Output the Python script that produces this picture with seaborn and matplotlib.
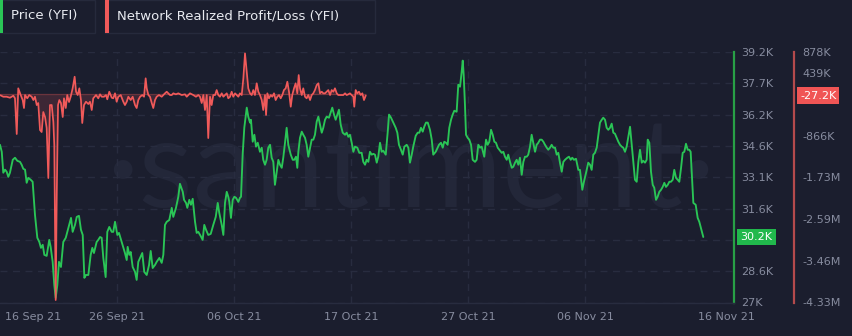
import matplotlib
matplotlib.use("Agg")
import matplotlib.pyplot as plt
import seaborn as sns
from matplotlib.patches import Rectangle
from matplotlib.transforms import Affine2D, blended_transform_factory, ScaledTranslation

# ---------------- data ----------------
# x = days after 16 Sep 2021 (chart scale), price in thousands USD
g_day = [
    0.00, 0.15, 0.28, 0.43, 0.57, 0.71, 0.85, 1.09, 1.28, 1.48,
    1.71, 1.85, 1.99, 2.14, 2.28, 2.42, 2.62, 2.79, 2.99, 3.19,
    3.36, 3.50, 3.65, 3.79, 3.99, 4.21, 4.33, 4.50, 4.64, 4.76,
    4.90, 5.04, 5.21, 5.41, 5.62, 5.84, 6.07, 6.21, 6.41, 6.56,
    6.75, 6.92, 7.07, 7.21, 7.35, 7.55, 7.75, 7.89, 8.03, 8.26,
    8.40, 8.55, 8.69, 8.83, 9.03, 9.17, 9.34, 9.55, 9.68, 9.83,
    10.03, 10.17, 10.40, 10.68, 10.83, 10.91, 11.05, 11.17, 11.34, 11.54,
    11.68, 11.82, 11.97, 12.16, 12.33, 12.54, 12.74, 12.88, 13.05, 13.25,
    13.39, 13.62, 13.82, 13.96, 14.10, 14.25, 14.47, 14.68, 14.81, 15.04,
    15.24, 15.38, 15.62, 15.73, 15.90, 16.01, 16.18, 16.32, 16.47, 16.67,
    16.81, 16.95, 17.15, 17.32, 17.46, 17.61, 17.80, 18.01, 18.23, 18.44,
    18.61, 18.74, 18.95, 19.09, 19.23, 19.38, 19.51, 19.60, 19.74, 19.89,
    20.03, 20.17, 20.37, 20.51, 20.60, 20.74, 20.88, 21.09, 21.22, 21.37,
    21.45, 21.60, 21.74, 21.88, 22.03, 22.22, 22.37, 22.50, 22.65, 22.79,
    22.93, 23.08, 23.22, 23.36, 23.50, 23.65, 23.79, 23.93, 24.08, 24.21,
    24.36, 24.50, 24.64, 24.85, 25.02, 25.15, 25.30, 25.41, 25.50, 25.64,
    25.79, 25.92, 26.07, 26.21, 26.35, 26.50, 26.64, 26.78, 26.92, 27.07,
    27.21, 27.35, 27.50, 27.63, 27.78, 27.92, 28.12, 28.29, 28.40, 28.55,
    28.69, 28.83, 28.97, 29.12, 29.29, 29.49, 29.63, 29.77, 29.91, 30.06,
    30.20, 30.34, 30.54, 30.71, 30.91, 31.05, 31.20, 31.34, 31.48, 31.62,
    31.77, 31.91, 32.05, 32.20, 32.33, 32.48, 32.62, 32.76, 32.97, 33.14,
    33.25, 33.42, 33.62, 33.82, 33.96, 34.10, 34.27, 34.42, 34.56, 34.76,
    34.90, 35.04, 35.19, 35.32, 35.53, 35.70, 35.84, 35.98, 36.13, 36.26,
    36.41, 36.56, 36.75, 36.90, 37.03, 37.24, 37.41, 37.52, 37.69, 37.84,
    37.97, 38.12, 38.26, 38.40, 38.55, 38.69, 38.83, 39.03, 39.17, 39.32,
    39.46, 39.55, 39.63, 39.74, 39.83, 39.97, 40.11, 40.26, 40.40, 40.60,
    40.74, 40.88, 41.03, 41.17, 41.31, 41.39, 41.54, 41.68, 41.82, 41.97,
    42.11, 42.25, 42.39, 42.54, 42.74, 42.88, 43.02, 43.16, 43.31, 43.44,
    43.59, 43.74, 43.87, 44.02, 44.16, 44.30, 44.44, 44.59, 44.73, 44.87,
    45.02, 45.15, 45.30, 45.44, 45.58, 45.73, 45.87, 46.01, 46.15, 46.30,
    46.44, 46.58, 46.73, 46.86, 47.01, 47.15, 47.29, 47.44, 47.58, 47.72,
    47.86, 48.01, 48.15, 48.29, 48.49, 48.63, 48.78, 48.91, 49.06, 49.23,
    49.43, 49.57, 49.77, 49.91, 50.09, 50.28, 50.43, 50.57, 50.71, 50.85,
    51.00, 51.14, 51.28, 51.43, 51.56, 51.71, 51.85, 51.99, 52.14, 52.28,
    52.42, 52.56, 52.71, 52.85, 52.99, 53.14, 53.27, 53.42, 53.56, 53.70,
    53.85, 53.99, 54.13, 54.27, 54.42, 54.56, 54.70, 54.85, 54.98, 55.13,
    55.27, 55.36, 55.50, 55.64, 55.79, 55.92, 56.07, 56.21, 56.35, 56.50,
    56.64, 56.78, 56.92, 57.07, 57.21, 57.35, 57.50, 57.63, 57.78, 57.92,
    58.06, 58.21, 58.35, 58.49, 58.63, 58.78, 58.91, 59.03, 59.12, 59.26,
    59.46, 59.63, 59.77, 59.91, 60.11,
]
g_price = [
    34.68, 34.34, 33.32, 33.47, 33.37, 33.12, 33.32, 33.95, 34.05, 33.90,
    33.85, 33.71, 33.51, 33.47, 32.83, 33.07, 32.98, 32.88, 31.27, 30.15,
    29.95, 29.66, 29.81, 29.32, 29.27, 30.05, 29.71, 28.98, 27.85, 27.22,
    27.85, 28.98, 28.73, 29.95, 30.15, 30.63, 31.12, 30.44, 30.78, 31.17,
    31.22, 30.54, 30.29, 28.20, 28.34, 28.34, 29.32, 29.66, 29.41, 29.95,
    30.05, 30.19, 30.15, 29.17, 28.24, 30.44, 30.68, 30.44, 30.44, 30.93,
    30.29, 30.39, 29.95, 29.41, 29.07, 29.71, 29.32, 29.46, 28.73, 28.49,
    28.10, 28.98, 29.17, 29.41, 28.49, 28.34, 28.83, 29.51, 28.68, 28.83,
    28.98, 29.17, 28.93, 29.32, 30.78, 30.93, 31.02, 31.61, 31.17, 31.61,
    32.15, 32.78, 32.39, 32.00, 31.85, 31.61, 32.00, 31.76, 32.05, 30.93,
    30.39, 30.44, 30.24, 30.05, 30.78, 30.54, 30.29, 30.34, 30.78, 31.17,
    31.85, 31.37, 30.78, 30.29, 31.85, 32.39, 32.15, 31.90, 31.12, 32.00,
    32.15, 32.10, 31.90, 32.10, 32.15, 34.20, 35.51, 36.49, 36.05, 35.76,
    35.90, 34.83, 35.17, 34.59, 34.78, 34.34, 34.54, 33.95, 33.71, 33.95,
    34.54, 34.68, 34.05, 33.85, 32.73, 33.37, 33.95, 33.71, 33.56, 34.05,
    34.78, 35.51, 34.68, 34.20, 33.95, 33.95, 34.10, 33.56, 34.34, 35.02,
    35.32, 35.17, 35.02, 34.68, 34.10, 34.54, 34.93, 34.93, 35.17, 35.81,
    36.05, 35.66, 35.27, 35.51, 35.90, 36.05, 36.00, 36.29, 36.49, 36.15,
    35.90, 36.15, 36.39, 35.66, 35.27, 35.17, 35.27, 35.07, 35.17, 34.78,
    34.34, 34.59, 34.54, 34.29, 34.29, 33.85, 33.71, 33.95, 33.85, 34.34,
    34.20, 34.24, 34.20, 33.81, 34.10, 34.78, 34.34, 34.39, 34.20, 35.32,
    36.15, 36.00, 35.76, 35.51, 35.27, 34.68, 34.44, 34.20, 34.59, 34.68,
    34.54, 33.81, 34.20, 34.59, 35.12, 35.27, 35.27, 35.51, 35.32, 35.56,
    35.76, 35.76, 35.41, 34.93, 34.20, 34.34, 34.54, 34.68, 34.78, 34.54,
    34.83, 34.78, 34.68, 35.51, 35.90, 36.15, 36.34, 36.29, 37.61, 37.51,
    38.24, 38.78, 38.10, 36.63, 35.17, 35.02, 34.93, 34.68, 33.95, 33.85,
    33.95, 34.68, 34.54, 34.59, 34.29, 34.10, 34.93, 34.68, 34.83, 35.41,
    35.17, 34.83, 34.78, 34.54, 34.39, 34.29, 34.34, 34.10, 33.95, 34.20,
    33.85, 33.56, 33.61, 33.81, 33.95, 33.71, 34.05, 33.22, 33.85, 34.10,
    34.10, 34.20, 34.59, 35.17, 34.78, 34.34, 34.68, 34.78, 34.93, 34.93,
    34.83, 34.68, 34.54, 34.44, 34.54, 34.68, 34.54, 34.54, 34.20, 34.29,
    33.81, 33.37, 33.85, 33.95, 34.05, 34.10, 33.95, 34.05, 33.95, 34.00,
    33.46, 33.46, 32.49, 32.88, 33.32, 33.81, 33.71, 33.46, 34.20, 34.29,
    34.54, 35.17, 35.76, 35.90, 36.00, 35.90, 35.51, 35.41, 35.51, 35.71,
    35.27, 35.22, 35.02, 34.83, 34.68, 34.59, 34.54, 34.34, 34.59, 35.07,
    35.56, 34.68, 33.85, 32.98, 32.88, 33.85, 34.44, 33.81, 33.90, 33.81,
    33.95, 34.93, 34.78, 33.37, 32.73, 32.59, 32.00, 32.15, 32.39, 32.49,
    32.63, 32.83, 32.63, 32.73, 32.88, 32.88, 32.98, 33.46, 33.07, 32.98,
    32.88, 33.56, 34.29, 34.34, 34.73, 34.44, 34.44, 34.34, 33.37, 31.85,
    31.76, 31.12, 30.93, 30.63, 30.19,
]

# Network realized profit/loss, thousands
r_day = [
    0.00, 0.28, 0.57, 0.85, 1.14, 1.28, 1.43, 1.56, 1.77, 1.94,
    2.05, 2.14, 2.33, 2.50, 2.71, 2.85, 2.99, 3.14, 3.27, 3.42,
    3.56, 3.70, 3.85, 3.99, 4.13, 4.27, 4.42, 4.56, 4.64, 4.76,
    4.85, 4.96, 5.07, 5.21, 5.36, 5.47, 5.62, 5.75, 5.90, 6.04,
    6.21, 6.38, 6.50, 6.64, 6.78, 6.92, 7.03, 7.18, 7.35, 7.55,
    7.69, 7.84, 7.97, 8.21, 8.40, 8.55, 8.69, 8.89, 9.06, 9.17,
    9.34, 9.55, 9.68, 9.83, 9.97, 10.11, 10.32, 10.54, 10.68, 10.83,
    10.97, 11.17, 11.34, 11.54, 11.68, 11.82, 11.97, 12.16, 12.31, 12.45,
    12.54, 12.68, 12.82, 12.97, 13.10, 13.25, 13.39, 13.59, 13.82, 13.96,
    14.10, 14.25, 14.38, 14.53, 14.68, 14.81, 15.04, 15.24, 15.53, 15.81,
    15.96, 16.24, 16.52, 16.75, 16.95, 17.09, 17.24, 17.38, 17.52, 17.67,
    17.80, 17.95, 18.09, 18.23, 18.38, 18.52, 18.66, 18.80, 18.95, 19.09,
    19.23, 19.38, 19.51, 19.66, 19.80, 19.94, 20.09, 20.23, 20.37, 20.51,
    20.66, 20.80, 20.94, 21.09, 21.22, 21.37, 21.51, 21.65, 21.79, 21.94,
    22.08, 22.22, 22.37, 22.50, 22.65, 22.74, 22.85, 22.99, 23.14, 23.27,
    23.42, 23.56, 23.70, 23.85, 23.99, 24.13, 24.27, 24.42, 24.56, 24.70,
    24.85, 24.98, 25.13, 25.27, 25.41, 25.53, 25.64, 25.79, 25.92, 26.07,
    26.21, 26.35, 26.50, 26.64, 26.78, 26.92, 27.07, 27.21, 27.35, 27.50,
    27.63, 27.78, 27.92, 28.06, 28.21, 28.35, 28.49, 28.63, 28.78, 28.91,
    29.06, 29.34, 29.49, 29.63, 29.77, 29.91, 30.06, 30.20, 30.28, 30.40,
    30.54, 30.68, 30.83, 30.97, 31.11, 31.26,
]
r_val = [
    -17, -52, -52, -73, -31, -85, -827, 123, -17, -121,
    -287, -17, -85, -17, -52, -121, -52, -225, -183, -744,
    -786, -370, -474, -703, -1742, -225, -225, -578, -1056, -4279,
    -2096, -225, -121, -183, -474, -85, -287, -17, -162, -52,
    123, 364, 52, -17, 123, -121, -599, -225, -156, -204,
    -156, -328, -85, -17, -85, -2, -52, -52, -17, -106,
    52, -73, -85, 19, -156, -52, -17, -156, -225, -156,
    -52, -121, -52, -225, -287, -121, -52, -17, -52, 331,
    123, -17, -52, -183, -287, -121, -52, -17, -52, -17,
    19, 52, 19, -17, -17, 19, -2, 19, -17, -2,
    -52, 19, -17, -52, -17, -52, -183, -17, -328, -17,
    -911, -52, -225, -17, -17, 87, -17, -52, 19, -52,
    -17, 19, -85, -52, 52, -52, 19, -17, -52, 19,
    -17, 331, 850, 468, 123, 19, -17, 87, -17, 227,
    52, -17, -121, -328, -17, -432, 19, -85, -17, -52,
    19, -121, -52, -17, -85, -17, 87, 123, 260, 52,
    -260, -17, 123, 227, 19, 399, 123, -17, 123, -52,
    -85, -17, -121, -17, 19, 87, 191, 227, 19, 52,
    19, 19, 52, 87, -17, 87, 52, 123, 19, -17,
    -17, -17, 19, -17, -2, 19, -17, -52, -260, 87,
    19, 52, -17, 19, -121, -27,
]

x_tick_pos = [0, 10, 20, 30, 40, 50, 62.1]
x_tick_labels = ["16 Sep 21", "26 Sep 21", "06 Oct 21", "17 Oct 21",
                 "27 Oct 21", "06 Nov 21", "16 Nov 21"]
x_grid = [10, 20, 30, 40, 50]

price_ticks = [27.0, 28.525, 30.05, 31.575, 33.1, 34.625, 36.15, 37.675, 39.2]
price_tick_labels = ["27K", "28.6K", "", "31.6K", "33.1K", "34.6K", "36.2K", "37.7K", "39.2K"]
pl_ticks = [878, 439, -866, -1730, -2590, -3460, -4330]
pl_tick_labels = ["878K", "439K", "-866K", "-1.73M", "-2.59M", "-3.46M", "-4.33M"]

price_last_label = "30.2K"
pl_last_label = "-27.2K"

# ---------------- style ----------------
BG = "#1b1e2e"
GRID = "#282c3f"
TICK = "#878c9f"
GREEN = "#2ac556"
GREEN_AX = "#28a046"
RED = "#f05a5a"
RED_AX = "#b44a4c"
BORDER = "#262a3c"
WATER = "#232739"

sns.set_theme(style="dark")
plt.rcParams["font.family"] = ["DejaVu Sans"]

W, H = 852, 336
fig = plt.figure(figsize=(W / 100, H / 100), dpi=100, facecolor=BG)
PX = Affine2D().scale(1 / W, -1 / H).translate(0, 1) + fig.transFigure

ax = fig.add_axes([0, 1 - 302.5 / H, 734 / W, 250.5 / H])
ax.set_facecolor(BG)
ax2 = ax.twinx()
ax2.patch.set_visible(False)

# watermark
ax.text(411 / W, 1 - 207 / H, "\u00b7santiment\u00b7", transform=fig.transFigure,
        ha="center", va="baseline", fontsize=90, color=WATER,
        family=["Lato", "DejaVu Sans"], fontweight="normal", zorder=0.5)

# grid
for xv in x_grid:
    ax.axvline(xv, color=GRID, lw=1, dashes=(5, 4), zorder=0.6)
ax.set_yticks(price_ticks, price_tick_labels)
ax.grid(axis="y", color=GRID, lw=1, dashes=(5, 4))
ax.grid(axis="x", visible=False)
ax.set_axisbelow(True)

# lines
sns.lineplot(x=g_day, y=g_price, ax=ax, color=GREEN, lw=1.35, estimator=None, sort=False)
ax2.fill_between(r_day, r_val, 0, color=RED, alpha=0.16, lw=0)
ax2.hlines(0, r_day[0], r_day[-1], color=RED, alpha=0.35, lw=0.9)
sns.lineplot(x=r_day, y=r_val, ax=ax2, color=RED, lw=1.25, estimator=None, sort=False)

ax.set_xlim(0, 734 / 11.7)
ax.set_ylim(27.0, 39.2)
ax2.set_ylim(-4330, 878)
ax.set_xlabel("")
ax.set_ylabel("")
ax2.set_ylabel("")

# axes / ticks
ax.yaxis.tick_right()
ax.tick_params(axis="y", length=0, pad=5, labelcolor=TICK, labelsize=8)
ax.set_xticks(x_tick_pos, x_tick_labels)
ax.tick_params(axis="x", length=0, pad=7, labelcolor=TICK, labelsize=8)
lbls = ax.get_xticklabels()
lbls[0].set_ha("left")
lbls[0].set_transform(lbls[0].get_transform() + ScaledTranslation(5 / 100, 0, fig.dpi_scale_trans))

ax2.set_yticks(pl_ticks, pl_tick_labels)
ax2.tick_params(axis="y", length=0, pad=6, labelcolor=TICK, labelsize=8)
ax2.grid(False)

for s in ["top", "left"]:
    ax.spines[s].set_visible(False)
ax.spines["bottom"].set_color(GRID)
ax.spines["bottom"].set_linewidth(1)
ax.spines["right"].set_color(GREEN_AX)
ax.spines["right"].set_linewidth(1.6)
for s in ["top", "left", "bottom"]:
    ax2.spines[s].set_visible(False)
ax2.spines["right"].set_position(("outward", 60 * 0.72))
ax2.spines["right"].set_color(RED_AX)
ax2.spines["right"].set_linewidth(1.6)

# last-value boxes
tr1 = blended_transform_factory(ax.transAxes, ax.transData) + ScaledTranslation(6.5 / 100, 0, fig.dpi_scale_trans)
ax.text(1.0, g_price[-1], price_last_label, transform=tr1, ha="left", va="center",
        color="white", fontsize=8, clip_on=False, zorder=5,
        bbox=dict(boxstyle="square,pad=0.28", fc="#21b84c", ec="none"))
tr2 = blended_transform_factory(ax2.transAxes, ax2.transData) + ScaledTranslation(66 / 100, 0, fig.dpi_scale_trans)
ax2.text(1.0, r_val[-1], pl_last_label, transform=tr2, ha="left", va="center",
         color="white", fontsize=8, clip_on=False, zorder=5,
         bbox=dict(boxstyle="square,pad=0.28", fc="#f05555", ec="none"))

# legend chips at the top
fig.add_artist(Rectangle((0, 0), 95, 33, transform=PX, fc=BG, ec=BORDER, lw=1))
fig.add_artist(Rectangle((0, 0), 3, 33, transform=PX, fc=GREEN, ec="none"))
fig.add_artist(Rectangle((105, 0), 270, 33, transform=PX, fc=BG, ec=BORDER, lw=1))
fig.add_artist(Rectangle((105, 0), 3.5, 33, transform=PX, fc=RED, ec="none"))
fig.text(11, 16, "Price (YFI)", transform=PX, ha="left", va="center",
         color="#e8eaf0", fontsize=9.5)
fig.text(117, 16, "Network Realized Profit/Loss (YFI)", transform=PX, ha="left",
         va="center", color="#e8eaf0", fontsize=9.5)

fig.savefig("out.png", dpi=100, facecolor=BG)
